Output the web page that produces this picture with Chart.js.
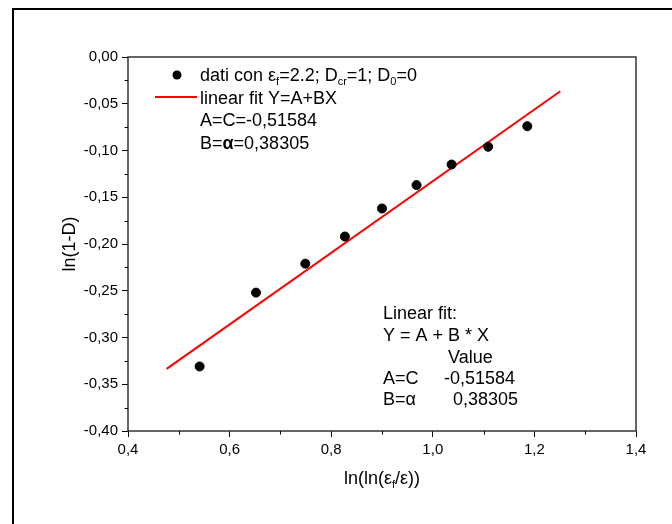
<!DOCTYPE html>
<html>
<head>
<meta charset="utf-8">
<script src="https://cdn.jsdelivr.net/npm/chart.js@4/dist/chart.umd.min.js"></script>
<style>
  html, body { margin: 0; padding: 0; background: #fff; }
  #wrap { width: 672px; height: 524px; position: relative; }
</style>
</head>
<body>
<div id="wrap"><canvas id="c" width="672" height="524"></canvas></div>
<script>
// ---- data ----
const xData = [0.541, 0.652, 0.749, 0.827, 0.900, 0.968, 1.037, 1.109, 1.186];
const yData = [-0.331, -0.252, -0.221, -0.192, -0.162, -0.137, -0.115, -0.096, -0.074];
const fitX = [0.476, 1.251];
const fitY = [-0.3335, -0.0366];
const xTicksMinor = [0.5, 0.7, 0.9, 1.1, 1.3];
const yTicksMinor = [-0.025, -0.075, -0.125, -0.175, -0.225, -0.275, -0.325, -0.375];
const fitA = '-0,51584';
const fitB = '0,38305';

const FONT = '"Liberation Sans", Arial, sans-serif';

function drawRich(ctx, x, y, segs, size) {
  let cx = x;
  for (const s of segs) {
    const fs = s.sub ? Math.round(size * 0.62) : size;
    ctx.font = (s.bold ? 'bold ' : '') + fs + 'px ' + FONT;
    ctx.textBaseline = 'alphabetic';
    const dy = s.sub ? size * 0.22 : 0;
    ctx.fillText(s.t, cx, y + dy);
    cx += ctx.measureText(s.t).width;
  }
  return cx - x;
}
function richWidth(ctx, segs, size) {
  let w = 0;
  for (const s of segs) {
    const fs = s.sub ? Math.round(size * 0.62) : size;
    ctx.font = (s.bold ? 'bold ' : '') + fs + 'px ' + FONT;
    w += ctx.measureText(s.t).width;
  }
  return w;
}

const decor = {
  id: 'decor',
  beforeDraw(chart) {
    const ctx = chart.ctx;
    ctx.save();
    ctx.fillStyle = '#fff';
    ctx.fillRect(0, 0, chart.width, chart.height);
    ctx.fillStyle = '#000';
    ctx.fillRect(12, 8, 2, chart.height);
    ctx.fillRect(12, 8, chart.width - 12, 2);
    ctx.restore();
  },
  afterDraw(chart) {
    const ctx = chart.ctx;
    const a = chart.chartArea;
    const xs = chart.scales.x, ys = chart.scales.y;
    ctx.save();
    // frame of plot
    ctx.strokeStyle = '#333';
    ctx.lineWidth = 1.5;
    ctx.strokeRect(a.left, a.top, a.right - a.left, a.bottom - a.top);
    // minor ticks
    ctx.strokeStyle = '#000';
    ctx.lineWidth = 1;
    ctx.beginPath();
    for (const v of xTicksMinor) {
      const px = Math.round(xs.getPixelForValue(v)) + 0.5;
      ctx.moveTo(px, a.bottom); ctx.lineTo(px, a.bottom + 3.5);
    }
    for (const v of yTicksMinor) {
      const py = Math.round(ys.getPixelForValue(v)) + 0.5;
      ctx.moveTo(a.left, py); ctx.lineTo(a.left - 3.5, py);
    }
    ctx.stroke();

    ctx.fillStyle = '#000';
    const L = a.left, T = a.top;
    // legend
    ctx.beginPath();
    ctx.arc(L + 49, T + 18, 4.5, 0, Math.PI * 2);
    ctx.fill();
    ctx.strokeStyle = '#ff0000';
    ctx.lineWidth = 2;
    ctx.beginPath();
    ctx.moveTo(L + 27, T + 40); ctx.lineTo(L + 69, T + 40);
    ctx.stroke();
    const lx = L + 72;
    drawRich(ctx, lx, T + 24, [{t:'dati con ε'}, {t:'f', sub:true}, {t:'=2.2; D'}, {t:'cr', sub:true}, {t:'=1; D'}, {t:'0', sub:true}, {t:'=0'}], 18);
    drawRich(ctx, lx, T + 47, [{t:'linear fit Y=A+BX'}], 18);
    drawRich(ctx, lx, T + 69, [{t:'A=C=' + fitA}], 18);
    drawRich(ctx, lx, T + 92, [{t:'B='}, {t:'α', bold:true}, {t:'=' + fitB}], 18);

    // fit box
    const bx = L + 255;
    drawRich(ctx, bx, T + 262, [{t:'Linear fit:'}], 18);
    drawRich(ctx, bx, T + 284, [{t:'Y = A + B * X'}], 18);
    drawRich(ctx, bx + 65, T + 306, [{t:'Value'}], 18);
    drawRich(ctx, bx, T + 327, [{t:'A=C'}], 18);
    drawRich(ctx, bx + 61, T + 327, [{t:fitA}], 18);
    drawRich(ctx, bx, T + 348, [{t:'B='}, {t:'α', sub:false}], 18);
    drawRich(ctx, bx + 70, T + 348, [{t:fitB}], 18);

    // x title
    const xsegs = [{t:'ln(ln(ε'}, {t:'f', sub:true}, {t:'/ε))'}];
    const xw = richWidth(ctx, xsegs, 18);
    drawRich(ctx, (a.left + a.right) / 2 - xw / 2, 484, xsegs, 18);

    // y title
    ctx.save();
    ctx.translate(70, (a.top + a.bottom) / 2);
    ctx.rotate(-Math.PI / 2);
    ctx.font = '18px ' + FONT;
    ctx.textAlign = 'center';
    ctx.textBaseline = 'middle';
    ctx.fillText('ln(1-D)', 0, 0);
    ctx.restore();
    ctx.restore();
  }
};

function fmt(v, d) {
  let s = Number(v).toFixed(d);
  if (/^-0[.,]0+$/.test(s)) s = s.slice(1);
  return s.replace('.', ',');
}

new Chart(document.getElementById('c'), {
  type: 'scatter',
  data: {
    datasets: [
      {
        label: 'linear fit',
        data: fitX.map((x, i) => ({x, y: fitY[i]})),
        showLine: true,
        borderColor: '#ff0000',
        borderWidth: 2,
        pointRadius: 0,
        order: 2
      },
      {
        label: 'dati',
        data: xData.map((x, i) => ({x, y: yData[i]})),
        backgroundColor: '#000',
        borderColor: '#000',
        pointRadius: 4.5,
        pointHoverRadius: 4.5,
        order: 1
      }
    ]
  },
  options: {
    responsive: false,
    animation: false,
    events: [],
    layout: { padding: { left: 68, top: 57, right: 36, bottom: 53 } },
    plugins: { legend: { display: false }, tooltip: { enabled: false } },
    scales: {
      x: {
        type: 'linear',
        min: 0.4, max: 1.4,
        afterFit(s) { s.height = 40; },
        border: { display: false },
        grid: { drawOnChartArea: false, drawTicks: true, tickLength: 6, tickColor: '#000', tickWidth: 1 },
        ticks: { stepSize: 0.2, color: '#000', padding: 4, font: { family: FONT, size: 15 },
                 callback: v => fmt(v, 1), maxRotation: 0, autoSkip: false }
      },
      y: {
        type: 'linear',
        min: -0.4, max: 0,
        afterFit(s) { s.width = 60; },
        border: { display: false },
        grid: { drawOnChartArea: false, drawTicks: true, tickLength: 6, tickColor: '#000', tickWidth: 1 },
        ticks: { stepSize: 0.05, color: '#000', padding: 4, font: { family: FONT, size: 15 },
                 callback: v => fmt(v, 2), autoSkip: false }
      }
    }
  },
  plugins: [decor]
});
</script>
</body>
</html>
